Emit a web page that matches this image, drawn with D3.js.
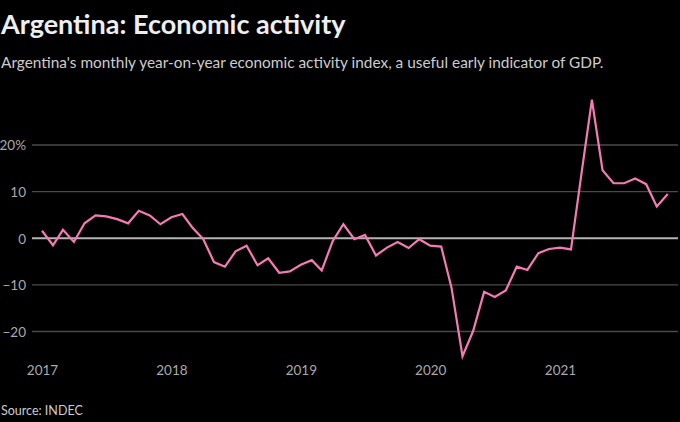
<!DOCTYPE html>
<html><head><meta charset="utf-8">
<script src="https://cdn.jsdelivr.net/npm/d3@7"></script>
<style>
html,body{margin:0;padding:0;background:#000;}
svg{display:block;}
</style></head>
<body>
<script>
const title = "Argentina: Economic activity";
const subtitle = "Argentina's monthly year-on-year economic activity index, a useful early indicator of GDP.";
const source = "Source: INDEC";
const startMonth = "2017-01";
const values = [
  1.6, -1.5, 1.8, -0.8, 3.2, 4.9, 4.7, 4.1, 3.2, 5.9, 4.9, 3.0,
  4.5, 5.2, 2.3, -0.2, -5.1, -6.1, -2.8, -1.6, -5.8, -4.3, -7.4, -7.1,
  -5.7, -4.7, -6.9, -0.6, 3.0, -0.2, 0.7, -3.7, -2.0, -0.8, -2.1, -0.2,
  -1.6, -1.8, -10.6, -25.3, -19.9, -11.5, -12.6, -11.2, -6.1, -6.8, -3.2, -2.3,
  -2.0, -2.4, 13.0, 29.7, 14.6, 11.8, 11.8, 12.8, 11.6, 6.8, 9.5
];
const yTicks = [-20, -10, 0, 10, 20];
const xTickYears = [2017, 2018, 2019, 2020, 2021];

const W = 680, H = 422;
const font = "'Source Sans Pro', Lato, 'Noto Sans', sans-serif";
const svg = d3.select("body").append("svg").attr("width", W).attr("height", H);
svg.append("rect").attr("width", W).attr("height", H).attr("fill", "#000");

const parse = d3.timeParse("%Y-%m");
const t0 = parse(startMonth);
const data = values.map((v, i) => ({date: d3.timeMonth.offset(t0, i), v}));

const x = d3.scaleTime().domain([new Date(2017,0,1), new Date(2021,0,1)]).range([42, 560]);
const y = d3.scaleLinear().domain([-20, 20]).range([331.5, 145]);

// grid
const grid = svg.append("g");
grid.selectAll("line").data(yTicks).join("line")
  .attr("x1", 32).attr("x2", 678)
  .attr("y1", d => y(d)).attr("y2", d => y(d))
  .attr("stroke", d => d === 0 ? "#b4b4b4" : "#4a4a4a")
  .attr("stroke-width", d => d === 0 ? 2 : 1.3);

// y labels
const yAxis = d3.axisLeft(y).tickValues(yTicks).tickSize(0).tickPadding(0)
  .tickFormat(d => d === 20 ? "20%" : (d < 0 ? "\u2212" + Math.abs(d) : String(d)));
const gy = svg.append("g").attr("transform", "translate(26,0)").call(yAxis);
gy.select(".domain").remove();
gy.selectAll("text").attr("fill", "#aaa").attr("font-family", font).attr("font-size", 13.5).attr("dy", "0.36em");

// x labels
const xAxis = d3.axisBottom(x).tickValues(xTickYears.map(yr => new Date(yr,0,1)))
  .tickSize(0).tickPadding(0).tickFormat(d3.timeFormat("%Y"));
const gx = svg.append("g").attr("transform", "translate(0,365)").call(xAxis);
gx.select(".domain").remove();
gx.selectAll("text").attr("fill", "#aaa").attr("font-family", font).attr("font-size", 13.5).attr("dy", "0.71em");

// line
const line = d3.line().x(d => x(d.date)).y(d => y(d.v));
svg.append("path").datum(data).attr("d", line)
  .attr("fill", "none").attr("stroke", "#f47ab4").attr("stroke-width", 2.2)
  .attr("stroke-linejoin", "miter");

// texts
svg.append("text").attr("x", 1).attr("y", 34).text(title)
  .attr("fill", "#eeeeee").attr("font-family", font).attr("font-weight", "bold").attr("font-size", 27);
svg.append("text").attr("x", 1).attr("y", 68).text(subtitle)
  .attr("fill", "#cccccc").attr("font-family", font).attr("font-size", 15.4);
svg.append("text").attr("x", 1).attr("y", 415).text(source)
  .attr("fill", "#cccccc").attr("font-family", font).attr("font-size", 12.5);
</script>
</body></html>
